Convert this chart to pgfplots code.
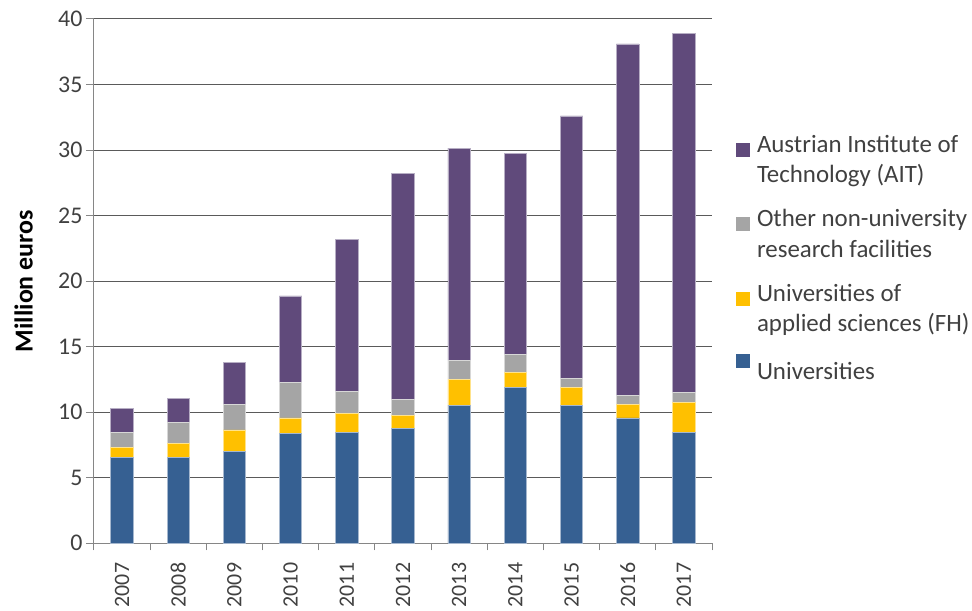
\documentclass[border=0pt]{standalone}
\usepackage{fontspec}
\setmainfont{Carlito}
\usepackage{pgfplots}
\pgfplotsset{compat=1.18}
\definecolor{cUni}{HTML}{366092}
\definecolor{cFH}{HTML}{FFC000}
\definecolor{cOth}{HTML}{A5A5A5}
\definecolor{cAIT}{HTML}{604A7B}
\definecolor{cAxis}{HTML}{868686}
\definecolor{cGrid}{HTML}{5A5A5A}
\definecolor{cText}{HTML}{404040}
\begin{document}
\begin{tikzpicture}
\begin{axis}[
  name=ax, at={(0,0)}, anchor=south west, scale only axis,
  width=618bp, height=524.3bp,
  ybar stacked, bar width=0.4,
  xmin=-0.5, xmax=10.5, ymin=0, ymax=40,
  xtick={0,...,10},
  xticklabels={2007,2008,2009,2010,2011,2012,2013,2014,2015,2016,2017},
  minor xtick={-0.5,0.5,...,10.5},
  ytick={0,5,...,40},
  axis x line*=bottom, axis y line*=left,
  axis line style={draw=cAxis, line width=1bp},
  tick align=outside,
  major tick length=8bp, minor tick length=7bp,
  major x tick style={draw=none},
  minor x tick style={draw=cAxis, line width=1bp},
  major y tick style={draw=cAxis, line width=1bp},
  ymajorgrids, grid style={draw=cGrid, line width=1bp},
  /pgf/number format/assume math mode=true,
  ticklabel style={font=\fontsize{24}{28}\selectfont, text=cText},
  x tick label style={rotate=90, anchor=east, xshift=-8bp, font=\fontsize{22}{26}\selectfont},
  ylabel={\bfseries Million euros},
  ylabel style={at={(axis description cs:-0.114,0.5)}, anchor=center, rotate=0, font=\fontsize{26}{30}\selectfont, text=black},
  reverse legend,
  legend cell align=left,
  legend style={draw=none, fill=none, at={(axis description cs:1.034,0.79)}, anchor=north west,
    font=\fontsize{25}{30.5}\selectfont, text=cText,
    nodes={align=left, inner sep=0pt}, row sep=21.2bp, column sep=7bp},
]
\addplot[fill=cUni, draw=white!55!cUni, line width=0.8bp, legend image code/.code={\fill[cUni] (0bp,1.5bp) rectangle (13bp,14.5bp);}] coordinates {
(0,6.54) (1,6.54) (2,7.00) (3,8.37) (4,8.47) (5,8.75) (6,10.55) (7,11.92) (8,10.55) (9,9.56) (10,8.47)};
\addlegendentry{\strut Universities}
\addplot[fill=cFH, draw=white!55!cFH, line width=0.8bp, legend image code/.code={\fill[cFH] (0bp,1.5bp) rectangle (13bp,14.5bp);}] coordinates {
(0,0.74) (1,1.09) (2,1.65) (3,1.19) (4,1.47) (5,0.99) (6,1.95) (7,1.12) (8,1.37) (9,1.02) (10,2.28)};
\addlegendentry{\strut Universities of\\\strut applied sciences (FH)}
\addplot[fill=cOth, draw=white!55!cOth, line width=0.8bp, legend image code/.code={\fill[cOth] (0bp,1.5bp) rectangle (13bp,14.5bp);}] coordinates {
(0,1.17) (1,1.58) (2,1.93) (3,2.74) (4,1.63) (5,1.26) (6,1.45) (7,1.36) (8,0.66) (9,0.71) (10,0.74)};
\addlegendentry{\strut Other non-university\\\strut research facilities}
\addplot[fill=cAIT, draw=white!55!cAIT, line width=0.8bp, legend image code/.code={\fill[cAIT] (0bp,1.5bp) rectangle (13bp,14.5bp);}] coordinates {
(0,1.82) (1,1.82) (2,3.19) (3,6.57) (4,11.61) (5,17.20) (6,16.19) (7,15.35) (8,20.02) (9,26.81) (10,27.44)};
\addlegendentry{\strut Austrian Institute of\\\strut Technology (AIT)}
\end{axis}
\pgfresetboundingbox
\path (ax.south west) ++(-94bp,-67.7bp) rectangle ++(972bp,611bp);
\end{tikzpicture}
\end{document}
